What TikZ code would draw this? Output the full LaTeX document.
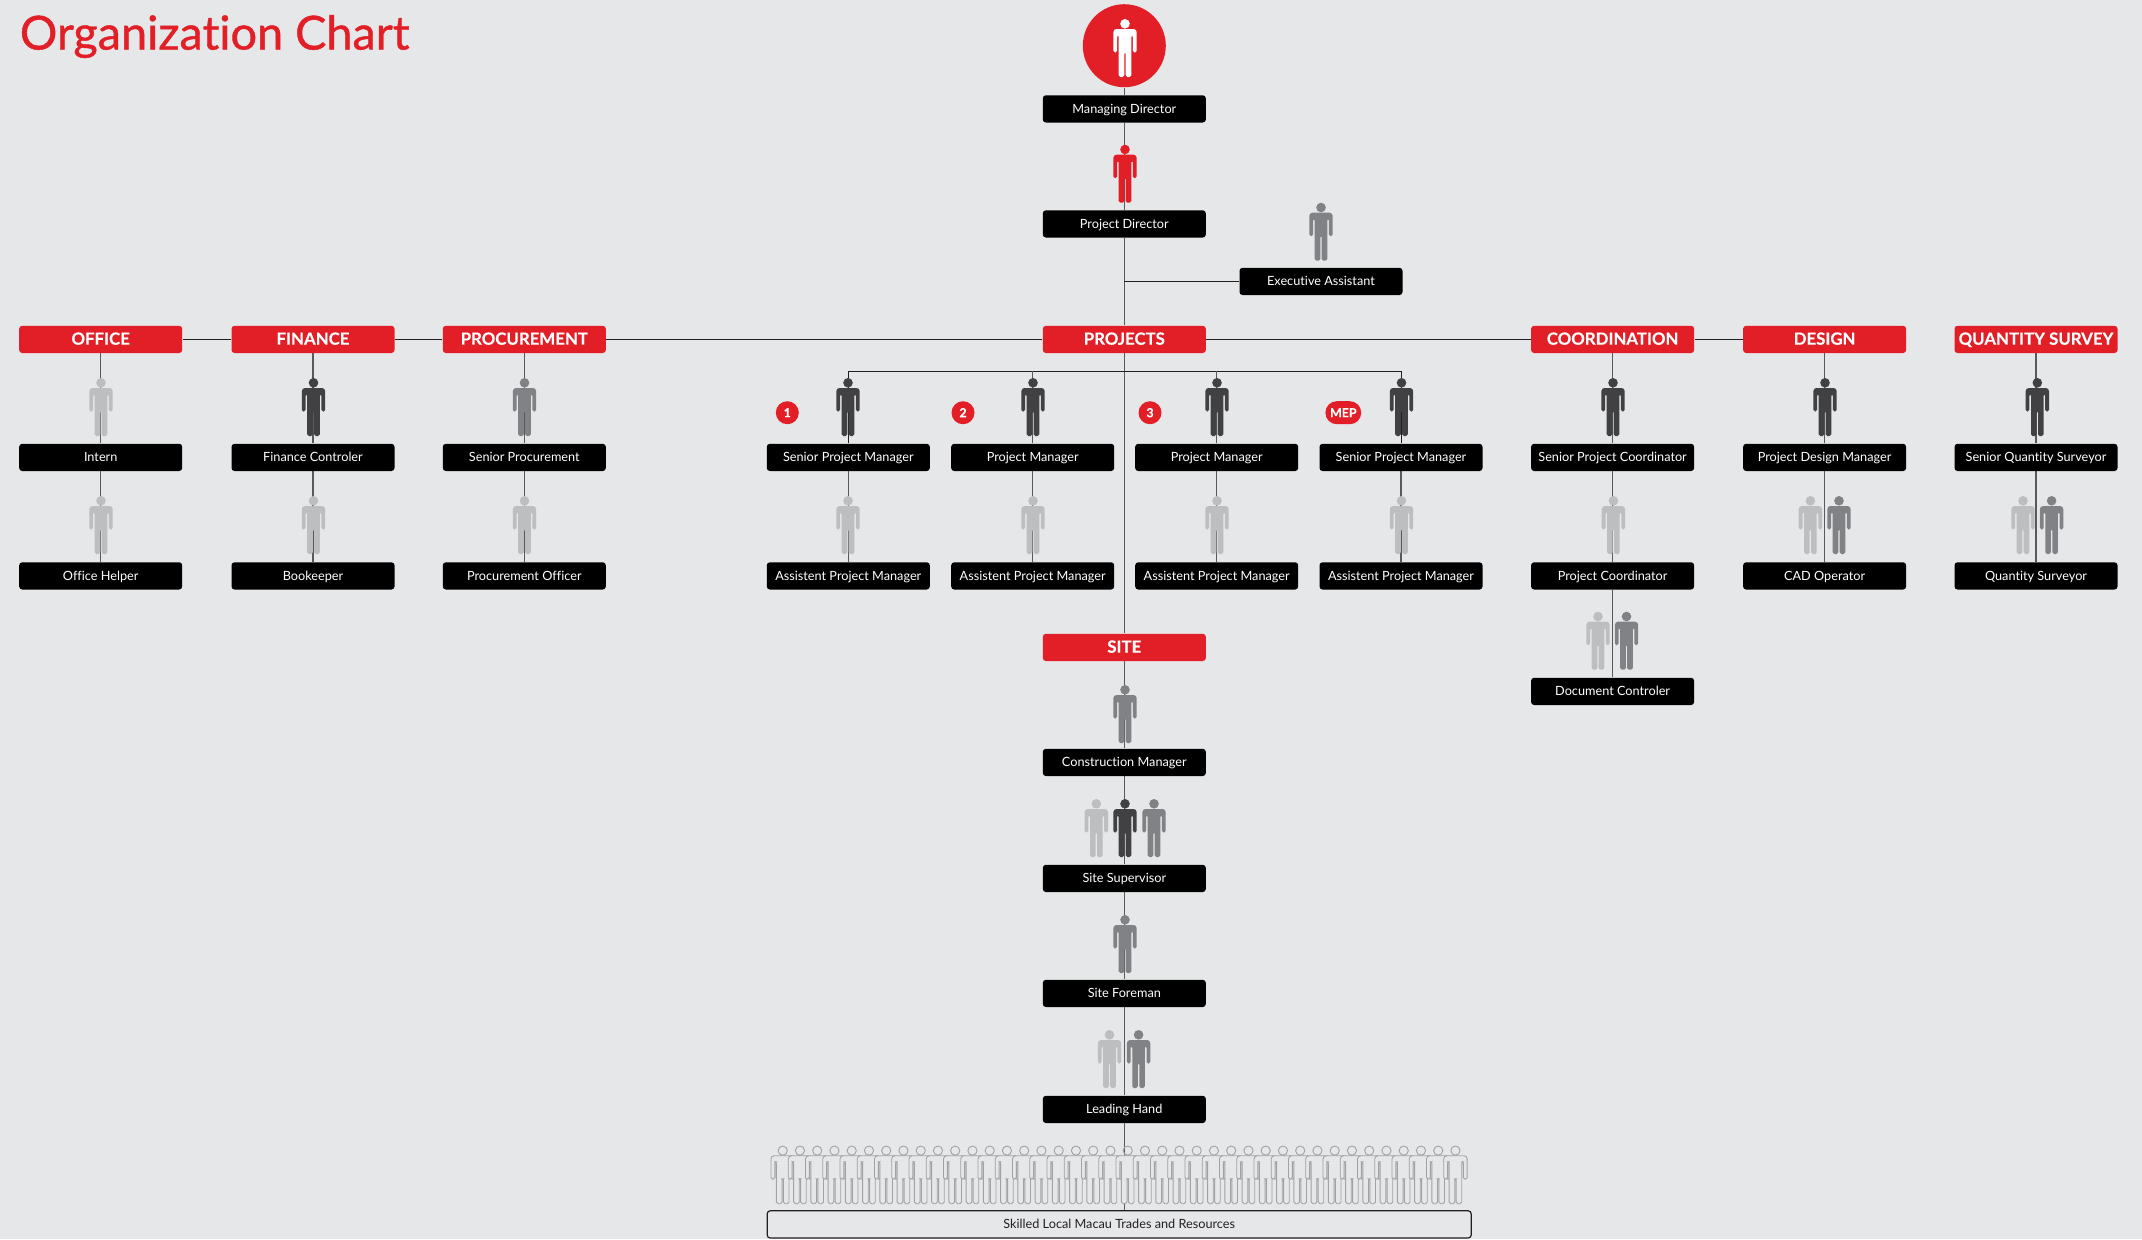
\documentclass[tikz,border=0pt]{standalone}
\usepackage{fontspec}
\setmainfont{Lato}[Ligatures=NoCommon]
\newfontfamily\titlefont{Lato}[Ligatures=NoCommon,FakeBold=0.9]
\newfontfamily\headfont{Lato Bold}[Ligatures=NoCommon,FakeBold=0.25]
\usetikzlibrary{backgrounds}
\definecolor{bgc}{HTML}{E6E7E8}
\definecolor{redc}{HTML}{E21E26}
\definecolor{darkf}{HTML}{414042}
\definecolor{midf}{HTML}{808285}
\definecolor{lightf}{HTML}{BCBEC0}
\definecolor{vline}{HTML}{58595B}
\definecolor{hline}{HTML}{231F20}
\definecolor{crowdc}{HTML}{A0A2A5}
\tikzset{
  x=0.5pt,y=-0.5pt,
  boxbase/.style={rectangle,rounded corners=1.5pt,minimum width=81.5pt,minimum height=13.6pt,inner sep=0pt,yshift=-0.2pt},
  rolebox/.style={boxbase,fill=black,text=white,font=\fontsize{6.35}{7}\selectfont,text height=6pt,text depth=1.8pt},
  headbox/.style={boxbase,fill=redc,text=white,font=\fontsize{8.4}{9}\headfont,text height=6.3pt,text depth=1pt},
  tradebox/.style={boxbase,draw=hline,line width=0.6pt,text=hline,minimum width=352pt,font=\fontsize{6.35}{7}\selectfont,text height=6pt,text depth=1.8pt},
  badge/.style={circle,fill=redc,text=white,minimum size=11.5pt,inner sep=0pt,font=\fontsize{6.2}{7}\headfont},
  vconn/.style={draw=vline,line width=0.75pt},
  hconn/.style={draw=hline,line width=0.5pt},
  pics/person/.style={code={
    \fill[#1,rounded corners=0.85pt] (-11.7,33.5) [rounded corners=1.6pt] --(-11.7,10)--(11.7,10) [rounded corners=0.85pt] --(11.7,33.5)--(7.9,33.5)--(7.9,16)--(6.3,16)--(6.3,58)--(0.7,58)--(0.7,33)--(-0.7,33)--(-0.7,58)--(-6.3,58)--(-6.3,16)--(-7.9,16)--(-7.9,33.5)--cycle;
    \fill[#1] (0,4.8) circle[radius=2.4pt];
  }},
  pics/outline/.style={code={
    \draw[crowdc,fill=bgc,line width=0.45pt,rounded corners=0.85pt] (-11.7,33.5) [rounded corners=1.6pt] --(-11.7,10)--(11.7,10) [rounded corners=0.85pt] --(11.7,33.5)--(7.9,33.5)--(7.9,16)--(6.3,16)--(6.3,58)--(0.7,58)--(0.7,33)--(-0.7,33)--(-0.7,58)--(-6.3,58)--(-6.3,16)--(-7.9,16)--(-7.9,33.5)--cycle;
    \draw[crowdc,line width=0.45pt] (0,4.9) circle[radius=2.3pt];
  }},
}
\begin{document}
\begin{tikzpicture}
\useasboundingbox (0,0) rectangle (2142,1239);
% title
\node[anchor=base west,inner sep=0pt,text=redc,font=\fontsize{23.4}{28}\titlefont] (title) at (19.5,49.5) {Organization Chart};
% top
\node[circle,fill=redc,minimum size=41.5pt,inner sep=0pt] (mdc) at (1124.3,45.7) {};
\node[rolebox] (md) at (1124.3,108.5) {Managing Director};
\node[rolebox] (pd) at (1124.3,223.5) {Project Director};
\node[rolebox] (ea) at (1321,281) {Executive Assistant};
% headers
\node[headbox] (office) at (100.7,339) {OFFICE};
\node[headbox] (finance) at (313,339) {FINANCE};
\node[headbox] (procure) at (524.3,339) {PROCUREMENT};
\node[headbox] (projects) at (1124.3,339) {PROJECTS};
\node[headbox] (coord) at (1612.6,339) {COORDINATION};
\node[headbox] (design) at (1824.6,339) {DESIGN};
\node[headbox] (qs) at (2036,339) {QUANTITY SURVEY};
\node[headbox] (site) at (1124.3,647) {SITE};
% role boxes
\node[rolebox] (intern) at (100.7,457) {Intern};
\node[rolebox] (helper) at (100.7,575.5) {Office Helper};
\node[rolebox] (fc) at (313,457) {Finance Controler};
\node[rolebox] (book) at (313,575.5) {Bookeeper};
\node[rolebox] (sp) at (524.3,457) {Senior Procurement};
\node[rolebox] (po) at (524.3,575.5) {Procurement Officer};
\node[rolebox] (pma) at (848.3,457) {Senior Project Manager};
\node[rolebox] (apa) at (848.3,575.5) {Assistent Project Manager};
\node[rolebox] (pmb) at (1032.7,457) {Project Manager};
\node[rolebox] (apb) at (1032.7,575.5) {Assistent Project Manager};
\node[rolebox] (pmc) at (1216.7,457) {Project Manager};
\node[rolebox] (apc) at (1216.7,575.5) {Assistent Project Manager};
\node[rolebox] (pmd) at (1401,457) {Senior Project Manager};
\node[rolebox] (apd) at (1401,575.5) {Assistent Project Manager};
\node[rolebox] (spc) at (1612.6,457) {Senior Project Coordinator};
\node[rolebox] (pc) at (1612.6,575.5) {Project Coordinator};
\node[rolebox] (dc) at (1612.6,691) {Document Controler};
\node[rolebox] (pdm) at (1824.6,457) {Project Design Manager};
\node[rolebox] (cad) at (1824.6,575.5) {CAD Operator};
\node[rolebox] (sqs) at (2036,457) {Senior Quantity Surveyor};
\node[rolebox] (qsv) at (2036,575.5) {Quantity Surveyor};
\node[rolebox] (cm) at (1124.3,762) {Construction Manager};
\node[rolebox] (ss) at (1124.3,878) {Site Supervisor};
\node[rolebox] (sf) at (1124.3,993) {Site Foreman};
\node[rolebox] (lh) at (1124.3,1109) {Leading Hand};
\node[tradebox] (trades) at (1119.2,1224) {Skilled Local Macau Trades and Resources};
% badges
\node[badge] (ba) at (787.3,412.7) {1};
\node[badge] (bb) at (963,412.7) {2};
\node[badge] (bc) at (1150,412.7) {3};
\node[rectangle,rounded corners=5.7pt,fill=redc,text=white,minimum width=17.9pt,minimum height=11.5pt,inner sep=0pt,font=\fontsize{6.2}{7}\headfont] (bd) at (1343.3,412.7) {MEP};
\coordinate (bus) at (1124.3,371);
% connectors
\begin{scope}[on background layer]
\fill[bgc] (0,0) rectangle (2142,1239);
\draw[vconn] (mdc) -- (md);
\draw[vconn] (md) -- (pd);
\draw[vconn] (pd) -- (projects);
\draw[vconn] (projects) -- (site);
\draw[vconn] (site) -- (cm);
\draw[vconn] (cm) -- (ss);
\draw[vconn] (ss) -- (sf);
\draw[vconn] (sf) -- (lh);
\draw[vconn] (lh.south) -- (lh.south |- trades.north);
\draw[hconn] (ea.west) -- (ea.west -| pd);
\draw[hconn] (office) -- (finance);
\draw[hconn] (finance) -- (procure);
\draw[hconn] (procure) -- (projects);
\draw[hconn] (projects) -- (coord);
\draw[hconn] (coord) -- (design);
\draw[hconn] (pma.north) |- (bus);
\draw[hconn] (pmd.north) |- (bus);
\draw[vconn] (pmb.north) -- (pmb.north |- bus);
\draw[vconn] (pmc.north) -- (pmc.north |- bus);
\foreach \a/\b in {office/intern,intern/helper,finance/fc,fc/book,procure/sp,sp/po,pma/apa,pmb/apb,pmc/apc,pmd/apd,coord/spc,spc/pc,pc/dc,design/pdm,pdm/cad,qs/sqs,sqs/qsv}
  \draw[vconn] (\a) -- (\b);
\end{scope}
% figures
\pic at (1125,19) {person=white};
\pic at (1125,144.7) {person=redc};
\pic at (1321,202.7) {person=midf};
\pic at (101,378) {person=lightf};
\pic at (101,496) {person=lightf};
\pic at (313.5,378) {person=darkf};
\pic at (313.5,496) {person=lightf};
\pic at (524.5,378) {person=midf};
\pic at (524.5,496) {person=lightf};
\foreach \x in {848,1033,1217,1401.5} {
  \pic at (\x,378) {person=darkf};
  \pic at (\x,496) {person=lightf};
}
\pic at (1613,378) {person=darkf};
\pic at (1613.4,496) {person=lightf};
\pic at (1598,611.7) {person=lightf};
\pic at (1626.5,611.7) {person=midf};
\pic at (1825,378) {person=darkf};
\pic at (1810.4,496) {person=lightf};
\pic at (1839,496) {person=midf};
\pic at (2037.3,378) {person=darkf};
\pic at (2023,496) {person=lightf};
\pic at (2051.6,496) {person=midf};
\pic at (1125,685) {person=midf};
\pic at (1096.3,799) {person=lightf};
\pic at (1125,799) {person=darkf};
\pic at (1154,799) {person=midf};
\pic at (1125,915) {person=midf};
\pic at (1109.5,1030) {person=lightf};
\pic at (1138.6,1030) {person=midf};
\foreach \i in {0,...,39} {
  \pic at ({782.7+\i*17.25},1145.7) {outline};
}
\end{tikzpicture}
\end{document}
